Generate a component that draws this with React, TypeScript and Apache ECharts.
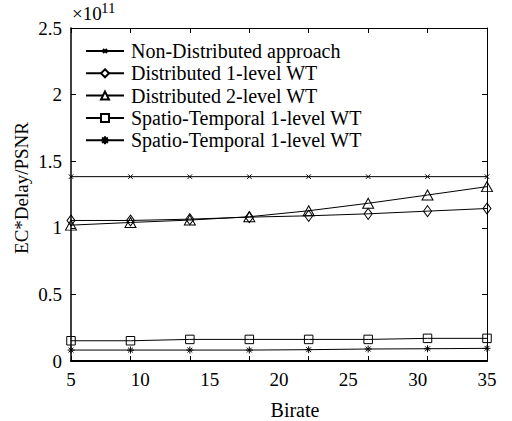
import React, { useEffect, useRef } from 'react';
import * as echarts from 'echarts';

const bitrates = [5, 9.29, 13.57, 17.86, 22.14, 26.43, 30.71, 35];
const nonDistributed = [1.384, 1.384, 1.384, 1.384, 1.384, 1.384, 1.384, 1.384];
const distributed1 = [1.055, 1.055, 1.065, 1.08, 1.09, 1.105, 1.125, 1.145];
const distributed2 = [1.02, 1.04, 1.058, 1.083, 1.128, 1.184, 1.246, 1.309];
const spatio1 = [0.152, 0.152, 0.162, 0.162, 0.162, 0.162, 0.17, 0.17];
const spatio2 = [0.082, 0.082, 0.082, 0.082, 0.085, 0.09, 0.092, 0.095];

const seriesKeys = ['nd', 'd1', 'd2', 'st1', 'st2'];
const seriesLabels = [
  'Non-Distributed approach',
  'Distributed 1-level WT',
  'Distributed 2-level WT',
  'Spatio-Temporal 1-level WT',
  'Spatio-Temporal 1-level WT',
];
const seriesValues = [nonDistributed, distributed1, distributed2, spatio1, spatio2];
const seriesSymbols = [
  'path://M0,0M10,10M2.5,2.5L7.5,7.5M7.5,2.5L2.5,7.5',
  'diamond',
  'triangle',
  'rect',
  'path://M5,0L5,10M0,5L10,5M1.5,1.5L8.5,8.5M8.5,1.5L1.5,8.5',
];
const seriesSymbolSizes: any[] = [9, [8, 11], [11, 10], 8.5, 7];
const hollow = [false, true, true, true, false];

const xTickCount = 7; // ticks at data positions
const yMin = 0;
const yMax = 2.5;
const yStep = 0.5;
const xMin = 5;
const xMax = 35;
const xStep = 5;

const FONT = "'Liberation Serif', 'Times New Roman', serif";

export default function App() {
  const ref = useRef<HTMLDivElement>(null);
  useEffect(() => {
    if (!ref.current) return;
    const chart = echarts.init(ref.current, undefined, { renderer: 'svg' });
    const black = '#000';
    const tickOnlyAxis = (position: string) => ({
      type: 'value',
      min: 0,
      max: xTickCount,
      interval: 1,
      position,
      axisLine: { show: position === 'top', onZero: false, lineStyle: { color: black, width: 1 } },
      axisTick: { show: true, inside: true, length: 5, lineStyle: { color: black, width: 1 } },
      axisLabel: { show: false },
      splitLine: { show: false },
    });
    chart.setOption({
      animation: false,
      backgroundColor: '#fff',
      grid: { left: 71, right: 25, top: 28, bottom: 60, containLabel: false },
      xAxis: [
        {
          type: 'value',
          min: xMin,
          max: xMax,
          interval: xStep,
          position: 'bottom',
          axisLine: { show: true, onZero: false, lineStyle: { color: black, width: 2 } },
          axisTick: { show: false },
          axisLabel: { color: black, fontSize: 19, fontFamily: FONT, margin: 9 },
          splitLine: { show: false },
        },
        tickOnlyAxis('bottom'),
        tickOnlyAxis('top'),
      ],
      yAxis: [
        {
          type: 'value',
          min: yMin,
          max: yMax,
          interval: yStep,
          position: 'left',
          axisLine: { show: true, onZero: false, lineStyle: { color: black, width: 1.5 } },
          axisTick: { show: true, inside: true, length: 5, lineStyle: { color: black } },
          axisLabel: { color: black, fontSize: 19, fontFamily: FONT, margin: 9 },
          splitLine: { show: false },
        },
        {
          type: 'value',
          min: yMin,
          max: yMax,
          interval: yStep,
          position: 'right',
          axisLine: { show: true, onZero: false, lineStyle: { color: black, width: 1 } },
          axisTick: { show: true, inside: true, length: 5, lineStyle: { color: black } },
          axisLabel: { show: false },
          splitLine: { show: false },
        },
      ],
      legend: {
        orient: 'vertical',
        left: 85,
        top: 41,
        padding: 0,
        itemWidth: 38,
        itemHeight: 10,
        itemGap: 2.3,
        selectedMode: false,
        data: seriesKeys.map((k) => ({ name: k, itemStyle: { color: '#fff' } })),
        formatter: (name: string) => seriesLabels[seriesKeys.indexOf(name)],
        textStyle: { color: black, fontSize: 20, fontFamily: FONT, lineHeight: 20, padding: [0, 0, 0, 2] },
      },
      series: seriesKeys.map((k, i) => ({
        name: k,
        type: 'line',
        xAxisIndex: 0,
        yAxisIndex: 0,
        data: bitrates.map((x, j) => [x, seriesValues[i][j]]),
        symbol: seriesSymbols[i],
        symbolSize: seriesSymbolSizes[i],
        showAllSymbol: true,
        lineStyle: { color: black, width: 1 },
        itemStyle: {
          color: hollow[i] ? 'rgba(255,255,255,0)' : black,
          borderColor: black,
          borderWidth: 1,
        },
        emphasis: { disabled: true },
      })),
      graphic: [
        {
          type: 'text',
          x: 21,
          y: 188,
          rotation: Math.PI / 2,
          style: {
            text: 'EC*Delay/PSNR',
            fontSize: 19,
            fontFamily: FONT,
            fill: black,
            textAlign: 'center',
            textVerticalAlign: 'middle',
          },
        },
        {
          type: 'text',
          x: 295,
          y: 410,
          style: {
            text: 'Birate',
            fontSize: 20,
            fontFamily: FONT,
            fill: black,
            textAlign: 'center',
            textVerticalAlign: 'middle',
          },
        },
        {
          type: 'text',
          x: 72,
          y: 23,
          style: {
            text: '×10',
            fontSize: 19,
            fontFamily: FONT,
            fill: black,
            textAlign: 'left',
            textVerticalAlign: 'bottom',
          },
        },
        {
          type: 'text',
          x: 101,
          y: 15,
          style: {
            text: '11',
            fontSize: 15,
            fontFamily: FONT,
            fill: black,
            textAlign: 'left',
            textVerticalAlign: 'bottom',
          },
        },
      ],
    });
    return () => chart.dispose();
  }, []);
  return (
    <div
      ref={ref}
      style={{ position: 'fixed', left: 0, top: 0, width: 512, height: 421, background: '#fff' }}
    />
  );
}
